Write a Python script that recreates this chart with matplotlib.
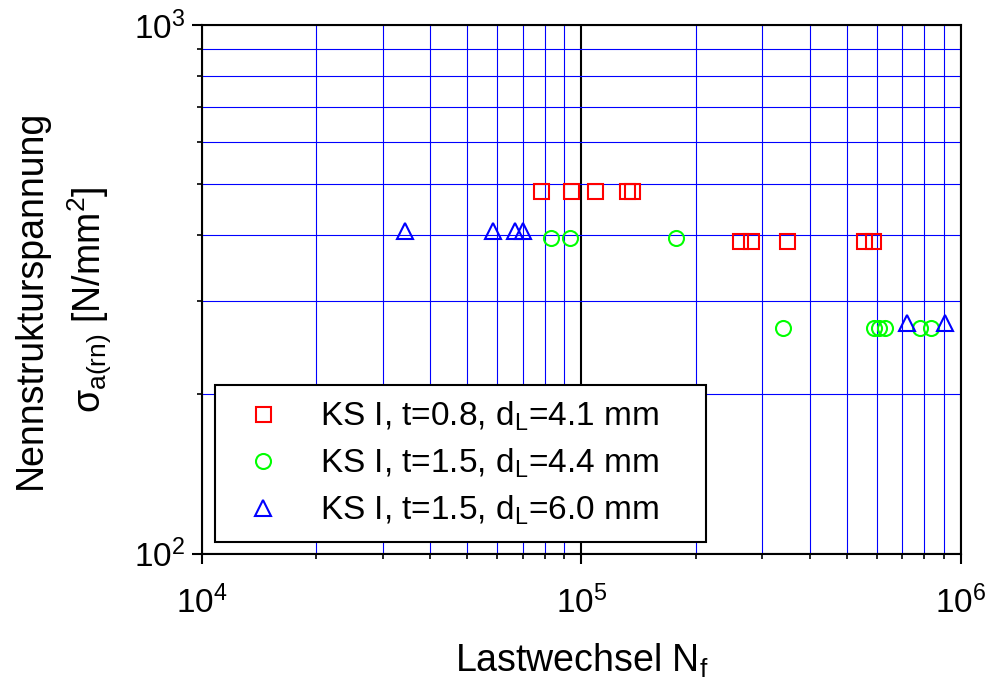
import matplotlib
matplotlib.use("Agg")
import matplotlib.pyplot as plt
from matplotlib.ticker import LogLocator, NullFormatter, LogFormatterSciNotation

plt.rcParams['font.family'] = ['Liberation Sans', 'DejaVu Sans']
plt.rcParams['mathtext.fontset'] = 'custom'
plt.rcParams['mathtext.rm'] = 'Liberation Sans'
plt.rcParams['mathtext.it'] = 'Liberation Sans:italic'
plt.rcParams['mathtext.bf'] = 'Liberation Sans:bold'

# data
n_ks08 = [78300, 93800, 108500, 131700, 135800, 261000, 280500, 349000, 556000, 587000]
s_ks08 = [485, 485, 485, 485, 485, 390, 390, 390, 390, 390]

n_ks15a = [83000, 93300, 177200, 340600, 590600, 608800, 631300, 780300, 834000]
s_ks15a = [396, 396, 396, 267, 267, 267, 267, 267, 267]

n_ks15b = [34400, 58500, 66900, 70200, 720000, 906000]
s_ks15b = [408, 408, 408, 408, 273, 273]

labels = [r'KS I, t=0.8, d$_\mathrm{L}$=4.1 mm',
          r'KS I, t=1.5, d$_\mathrm{L}$=4.4 mm',
          r'KS I, t=1.5, d$_\mathrm{L}$=6.0 mm']

fig = plt.figure(figsize=(9.89, 6.81), dpi=100)
ax = fig.add_axes([0.2039, 0.1872, 0.7678, 0.7761])
ax.set_xscale('log')
ax.set_yscale('log')

ax.plot(n_ks08, s_ks08, ls='none', marker='s', ms=10.8, mfc='none', mec='#ff0000', mew=1.5, label=labels[0])
ax.plot(n_ks15a, s_ks15a, ls='none', marker='o', ms=10.8, mfc='none', mec='#00ff00', mew=1.5, label=labels[1])
ax.plot(n_ks15b, s_ks15b, ls='none', marker='^', ms=12, mfc='none', mec='#0000ff', mew=1.5, label=labels[2])

ax.set_xlim(1e4, 1e6)
ax.set_ylim(100, 1000)

for axis in (ax.xaxis, ax.yaxis):
    axis.set_major_locator(LogLocator(base=10))
    axis.set_minor_locator(LogLocator(base=10, subs=range(2, 10)))
    axis.set_major_formatter(LogFormatterSciNotation())
    axis.set_minor_formatter(NullFormatter())

ax.grid(which='minor', color='#0000ff', lw=0.8)
ax.grid(which='major', color='black', lw=1.5)
ax.set_axisbelow(True)

ax.tick_params(which='major', direction='out', length=7, width=1.5, labelsize=24)
ax.tick_params(axis='x', which='major', pad=16)
ax.tick_params(axis='y', which='major', pad=5)
ax.tick_params(which='minor', direction='out', length=3.5, width=1.2)
for sp in ax.spines.values():
    sp.set_linewidth(1.5)

ax.set_xlabel(r'Lastwechsel N$_\mathrm{f}$', fontsize=27)
ax.xaxis.set_label_coords(0.5, -0.166)
ax.set_ylabel('Nennstrukturspannung\n' + r'$\mathrm{σ_{a(rn)}}$ [N/mm$^\mathrm{2}$]',
              fontsize=27, linespacing=1.5)
ax.yaxis.set_label_coords(-0.115, 0.48)

leg = ax.legend(loc='lower left', bbox_to_anchor=(0.0175, 0.0223, 0.6465, 0.3), mode='expand',
                borderaxespad=0, fontsize=24, frameon=True, fancybox=False, framealpha=1,
                edgecolor='black', handlelength=2.0, handletextpad=0.7, borderpad=0.45,
                labelspacing=0.4)
leg.get_frame().set_linewidth(1.5)

fig.savefig('out.png', dpi=100)
